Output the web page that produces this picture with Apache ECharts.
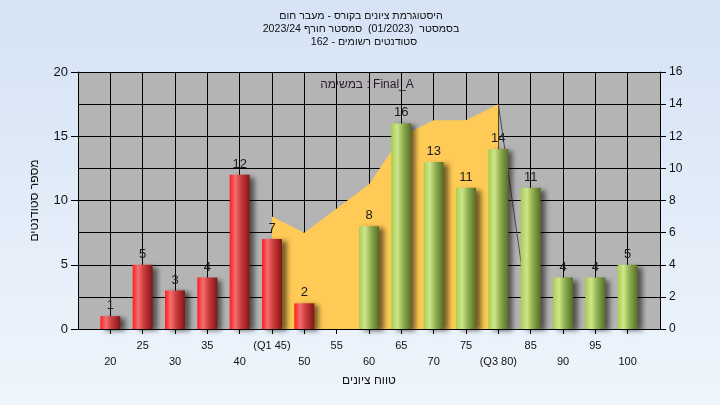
<!DOCTYPE html>
<html>
<head>
<meta charset="utf-8">
<script src="https://cdn.jsdelivr.net/npm/echarts@6/dist/echarts.min.js"></script>
<style>html,body{margin:0;padding:0;}#c{width:720px;height:405px;}</style>
</head>
<body>
<div id="c"></div>
<script>
// ---- data ----
const scores = [20,25,30,35,40,45,50,55,60,65,70,75,80,85,90,95,100];
const counts = [1,5,3,4,12,7,2,0,8,16,13,11,14,11,4,4,5];
const iqrScores = [45,50,55,60,65,70,75,80];
const iqrValues = [7,6,7.5,9,12,13,13,14];
const dropScores = [80,85];
const dropValues = [14,0];
const quartileLabels = {45:'(Q1 45)', 80:'(Q3 80)'};
const passScore = 55;
const titleLine1 = 'היסטוגרמת ציונים בקורס - מעבר חום';
const titleLine2 = 'בסמסטר  (01/2023)  סמסטר חורף 2023/24';
const titleLine3 = 'סטודנטים רשומים - 162';
const seriesLabel = ['במשימה',' : Final_A'];
const xName = 'טווח ציונים';
const yName = 'מספר סטודנטים';

const FONT = '"Liberation Sans", Arial, sans-serif';
function rich(parts){ return parts.map(p => '{t|' + p + '}').join(''); }

const redGrad = new echarts.graphic.LinearGradient(0,0,1,0,[
  {offset:0,color:'#ff1c1c'},{offset:0.28,color:'#f27070'},{offset:0.55,color:'#d03c3c'},{offset:1,color:'#7e1616'}]);
const greenGrad = new echarts.graphic.LinearGradient(0,0,1,0,[
  {offset:0,color:'#a6cf4c'},{offset:0.3,color:'#cfe68e'},{offset:0.6,color:'#8fae4c'},{offset:1,color:'#566c28'}]);

const barData = scores.map((s,i)=>({value:[s,counts[i]], itemStyle:{color: s < passScore ? redGrad : greenGrad}}));

function plainText(text, x, y, size, color){
  return {type:'text', x:x, y:y, z:100, style:{text:text, align:'center', fontFamily:FONT, fontSize:size, fill:color}};
}

const chart = echarts.init(document.getElementById('c'), null, {renderer:'canvas'});
chart.setOption({
  animation:false,
  backgroundColor: new echarts.graphic.LinearGradient(0,0,0,1,[{offset:0,color:'#d5e3f5'},{offset:1,color:'#eff5fc'}]),
  textStyle:{fontFamily:FONT},
  graphic:[
    plainText(titleLine1, 361, 11, 10.6, '#111'),
    plainText(titleLine2, 361, 24, 10.6, '#111'),
    plainText(titleLine3, 364, 37, 10.6, '#111'),
    {type:'text', x:367, y:79, z:100, style:{text:rich(seriesLabel), align:'center', fontFamily:FONT, fontSize:12, fill:'#2a1a30',
      rich:{t:{fontSize:12, fontFamily:FONT, color:'#2a1a30'}}}}
  ],
  grid:{left:78,right:60,top:72,bottom:76,show:true,backgroundColor:'#b4b4b4',borderWidth:0},
  xAxis:{
    type:'value', min:15, max:105, interval:5,
    name:xName, nameLocation:'middle', nameGap:45,
    nameTextStyle:{fontSize:12,color:'#111',fontFamily:FONT},
    axisLine:{show:true,lineStyle:{color:'#000',width:1}},
    axisTick:{show:true,length:5,lineStyle:{color:'#000'}},
    splitLine:{show:true,lineStyle:{color:'#000',width:1}},
    axisLabel:{
      margin:9, fontSize:11, lineHeight:16, color:'#111', fontFamily:FONT,
      showMinLabel:false, showMaxLabel:false, hideOverlap:false,
      formatter:function(v){
        if(v<20||v>100) return '';
        const t = quartileLabels[v] || String(v);
        return (v%10===0) ? '\n'+t : t;
      }
    }
  },
  yAxis:[
    {type:'value', min:0, max:20, interval:5, position:'left',
     name:yName, nameLocation:'middle', nameGap:37,
     nameTextStyle:{fontSize:12,color:'#111',fontFamily:FONT},
     axisLine:{show:true,lineStyle:{color:'#000'}},
     axisTick:{show:true,length:7,lineStyle:{color:'#000'}},
     splitLine:{show:false},
     axisLabel:{margin:10,fontSize:13,color:'#111',fontFamily:FONT}},
    {type:'value', min:0, max:16, interval:2, position:'right',
     axisLine:{show:true,lineStyle:{color:'#000'}},
     axisTick:{show:true,length:6,lineStyle:{color:'#000'}},
     splitLine:{show:true,lineStyle:{color:'#000',width:1}},
     axisLabel:{margin:9,fontSize:12,color:'#111',fontFamily:FONT}}
  ],
  series:[
    {type:'line', yAxisIndex:1, z:2, symbol:'none', silent:true,
     data: iqrScores.map((s,i)=>[s,iqrValues[i]]),
     lineStyle:{width:0}, areaStyle:{color:'#ffca55',opacity:1}},
    {type:'line', yAxisIndex:1, z:2, symbol:'none', silent:true,
     data: dropScores.map((s,i)=>[s,dropValues[i]]),
     lineStyle:{width:1,color:'#4a4a4a'}},
    {type:'bar', yAxisIndex:0, z:5, barWidth:20,
     data: barData,
     itemStyle:{shadowColor:'rgba(0,0,0,0.55)',shadowBlur:5,shadowOffsetX:5,shadowOffsetY:2},
     label:{show:true, position:'top', distance:4, fontSize:13, color:'#1a1a1a', fontFamily:FONT,
       formatter:function(p){return p.value[1]===0?'':String(p.value[1]);}}}
  ]
});
</script>
</body>
</html>
